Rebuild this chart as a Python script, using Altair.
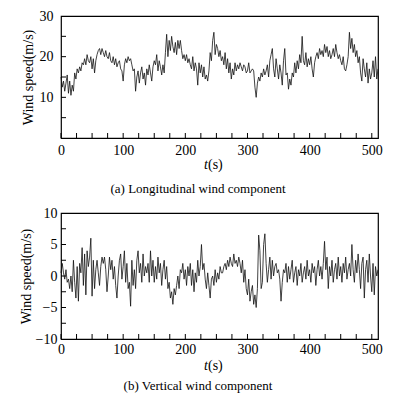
import altair as alt
import pandas as pd

# time axis (s), sampled every 2 s
t = list(range(0, 512, 2))

# (a) longitudinal wind speed (m/s)
u_vals = [
    15, 12.5, 14, 11.5, 13.5, 15.5, 11, 14, 10.5, 13,
    11.5, 16, 14.5, 17, 16, 17.5, 16.5, 18.5, 18, 19.5,
    18, 20.5, 19, 18.5, 20, 17, 19.5, 16, 19, 20.5,
    21.5, 22, 20.5, 22, 21, 20, 21.5, 20, 19.5, 21,
    19, 18.5, 20, 18, 19.5, 17.5, 18.5, 19, 17, 16.5,
    14, 18, 19.5, 18.5, 20, 19, 19.5, 18, 16.5, 17,
    11.5, 15, 16.5, 13.5, 16, 17.5, 14.5, 16, 13, 17,
    15.5, 18, 16, 14, 17.5, 19, 18, 20.5, 16.5, 19,
    17.5, 15.5, 18, 16, 21, 25.5, 20, 24, 21.5, 25,
    22.5, 21, 23.5, 20.5, 24, 22, 24, 21.5, 19.5, 20.5,
    19, 20.5, 18.5, 19.5, 18, 17, 20, 16.5, 18.5, 17,
    13, 18.5, 16, 18, 15, 17.5, 14.5, 15.5, 14, 16.5,
    21, 19, 24, 26, 20.5, 23, 22, 20, 21.5, 19,
    20, 18, 21, 17, 19.5, 16, 18.5, 14.5, 17, 15.5,
    18.5, 16.5, 18, 17, 18.5, 17.5, 16.5, 18, 17.5, 16,
    16.5, 18.5, 16, 16.5, 17, 16.5, 12.5, 10, 13.5, 15,
    14, 16, 15, 17, 15.5, 16.5, 18, 15, 19, 20.5,
    22, 17, 15, 19.5, 17, 14.5, 18, 16, 13, 19,
    22, 15.5, 16, 12, 14.5, 13, 16, 15, 18.5, 16,
    19, 17, 20.5, 18.5, 25, 19, 18, 21, 17.5, 19.5,
    18, 20, 17, 15, 18.5, 20, 21, 19.5, 22, 20.5,
    21.5, 20, 23, 21, 22.5, 20, 21.5, 19.5, 20.5, 22,
    20, 23, 21, 19.5, 20.5, 19, 18, 20, 17, 16.5,
    18, 20, 26, 22, 24.5, 21, 23, 20, 21.5, 18.5,
    20, 16, 14, 19.5, 17, 15, 18.5, 13.5, 17, 14.5,
    16, 19, 15, 20, 14.5, 17,
]

# (b) vertical wind speed (m/s)
w_vals = [
    0.5, 2, 0.5, -0.5, 1, -1, -0.5, -2, 0, -2.5,
    2.5, -1, -3.5, 1.5, -4, 2, 0.5, 4.5, -1.5, 3.5,
    -3, 4, 1.5, 3, 6, -3.2, 2.5, -2, 1, 2.5,
    0.5, -1.5, 1.5, 3, 2, 3, 1, -2.5, 0, 3,
    1, 2.5, -0.5, 1.5, -1.5, -3.5, 0, 2.5, 3.5, -0.5,
    1.5, 4, -1, 2, -2, -1, -4.8, 2.5, -1.5, 1,
    -2, 2.5, 4, 0.5, 2, -1, 3.5, 0, 1.5, 0.5,
    2, -1, 4, 0, 2.5, -1, 1.5, -0.5, 3, 0.5,
    2, -1.5, 1, 2.5, -0.5, 1.5, -2, -1, -3.5, -2.5,
    -4.5, -2, -3, -1.5, 0, -2, 1, 0.5, 2, -0.5,
    1, -1.5, 1.5, 0, 2, -1.5, 1, -2.5, 0.5, -1,
    2.5, 0, 1.5, 5, 1, 2, -0.5, -2, 0.5, -1.5,
    -3.5, -0.5, 0, -1.5, 1, -1, 0.5, -0.5, 1.5, 0.5,
    0.5, 1.5, 2, 1, 2.5, 1.5, 3, 2, 1.5, 3.5,
    2, 2.5, 1.5, 3, 2, 0.5, 2.5, -1, 1, -2,
    -3, -0.5, -4, -2.5, -1.5, -4.5, -3, -5, -2, 6.5,
    4, -2, -1, 5, 6.7, 2, -1, 1, 3, -0.5,
    2.5, 0, 1.5, 2, 0.5, 1, -0.5, -4, -1, 1,
    0.5, 2, -1, 1.5, -0.5, 1, 2.5, -1, 0.5, 1.5,
    -1.5, 1, 0, 2, -1, 0.5, 1.5, -0.5, 2.5, 0,
    1, -1, 2, 0.5, 1.5, -1.5, 1, 2.5, 0, 1.5,
    -0.5, 2, 5.5, 1, 3, -2, 1.5, 0, 2.5, -1,
    1, 2, -0.5, 3, 0, 1.5, -1, 2, 0.5, 3,
    -0.5, 1, 2, 0, 5, 1, -1, 2.5, 0.5, 3.5,
    1, -2, 2, 3, -3.5, 1, 2.5, -1, 3.5, 0,
    -2.5, 2, -3, 1.5, 0, 1,
]

x_label_vals = [0, 100, 200, 300, 400, 500]
x_tick_vals = [0, 25, 50, 75, 100, 125, 150, 175, 200, 225, 250, 275, 300,
               325, 350, 375, 400, 425, 450, 475, 500]
u_label_vals = [10, 20, 30]
u_tick_vals = [5, 10, 15, 20, 25]
w_label_vals = [-10, -5, 0, 5, 10]
w_tick_vals = [-7.5, -5, -2.5, 0, 2.5, 5, 7.5]

FONT = "Liberation Serif, Times New Roman, serif"
W = 317


def panel(vals, ydom, ylabels, yticks, height, caption, cap_off, lab_pad_x, lab_pad_y, title_pad):
    xs = alt.Scale(domain=[0, 510], nice=False, zero=False)
    ys = alt.Scale(domain=ydom, nice=False, zero=False)
    xax = alt.Axis(values=x_label_vals, ticks=False, domain=False, grid=False,
                   title=None, format="d", labelPadding=lab_pad_x, labelFlush=False,
                   labelFont=FONT, labelFontSize=14, labelColor="black")
    yax = alt.Axis(values=ylabels, ticks=False, domain=False, grid=False,
                   title="Wind speed(m/s)", format="d", labelPadding=lab_pad_y,
                   titlePadding=title_pad, labelFont=FONT, labelFontSize=14,
                   labelColor="black", titleFont=FONT, titleFontSize=14,
                   titleColor="black", titleFontWeight="normal")
    df = pd.DataFrame({"t": t, "v": vals})
    line = alt.Chart(df).mark_line(color="#111111", strokeWidth=0.8).encode(
        x=alt.X("t:Q", scale=xs, axis=xax),
        y=alt.Y("v:Q", scale=ys, axis=yax),
    )
    xt = alt.Chart(pd.DataFrame({"t": x_tick_vals})).mark_rule(
        color="black", strokeWidth=1).encode(
        x=alt.X("t:Q", scale=xs, axis=xax),
        y=alt.value(height), y2=alt.value(height - 5),
    )
    yt = alt.Chart(pd.DataFrame({"v": yticks})).mark_rule(
        color="black", strokeWidth=1).encode(
        y=alt.Y("v:Q", scale=ys, axis=yax),
        x=alt.value(0), x2=alt.value(5),
    )
    lab = pd.DataFrame({"a": [0]})
    t_it = alt.Chart(lab).mark_text(
        text="t", font=FONT, fontSize=14, fontStyle="italic", align="right",
        baseline="middle", color="black").encode(
        x=alt.value(147), y=alt.value(height + 27))
    t_s = alt.Chart(lab).mark_text(
        text="(s)", font=FONT, fontSize=14, align="left",
        baseline="middle", color="black").encode(
        x=alt.value(147), y=alt.value(height + 27))
    cap = alt.Chart(lab).mark_text(
        text=caption, font=FONT, fontSize=13, align="center",
        baseline="middle", color="black").encode(
        x=alt.value(137), y=alt.value(height + cap_off))
    return alt.layer(line, xt, yt, t_it, t_s, cap).properties(width=W, height=height)


top = panel(u_vals, [0, 30], u_label_vals, u_tick_vals, 122,
            "(a)  Longitudinal wind component", 51, 5, 8, 4)
bottom = panel(w_vals, [-10, 10], w_label_vals, w_tick_vals, 126,
               "(b)  Vertical wind component", 47, 3, 4, 2)

chart = alt.vconcat(top, bottom, spacing=8).properties(
    padding={"left": 10, "top": 0, "right": 5, "bottom": 0}
).configure_view(
    stroke="black", strokeWidth=1.2
)

chart.save("out.html", embed_options={"renderer": "svg", "actions": False})
